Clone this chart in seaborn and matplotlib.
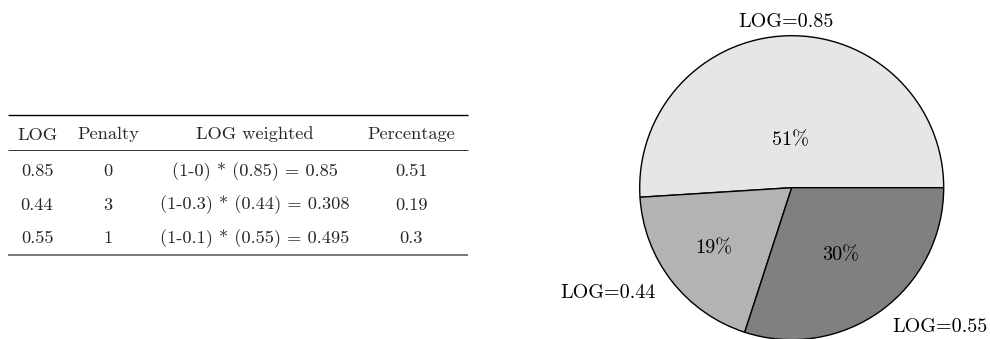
import matplotlib
matplotlib.use("Agg")
import matplotlib.pyplot as plt
import seaborn as sns
import numpy as np

# data
headers = ["LOG", "Penalty", "LOG weighted", "Percentage"]
log_values = ["0.85", "0.44", "0.55"]
penalties = ["0", "3", "1"]
penalty_factors = ["0", "0.3", "0.1"]
weighted = ["0.85", "0.308", "0.495"]
percentages = [0.51, 0.19, 0.3]
pie_labels = ["LOG=" + v for v in log_values]

# style
grays = ["#e6e6e6", "#b3b3b3", "#808080"]
pct_dist = [0.31, 0.65, 0.55]
lab_dist = [1.09, 1.13, 1.13]

sns.set_theme(style="white")
plt.rcParams["font.family"] = ["cmr10", "DejaVu Serif"]
plt.rcParams["mathtext.fontset"] = "cm"
plt.rcParams["axes.unicode_minus"] = False

fig = plt.figure(figsize=(9.9, 3.39), dpi=100)

# table, drawn on a pixel grid over the whole figure
tab = fig.add_axes([0, 0, 1, 1])
tab.set_xlim(0, 990)
tab.set_ylim(339, 0)
tab.axis("off")

col_x = [37, 108, 255, 411]
head_y = 139.5
row_y = [176, 209.5, 243]
fs_table = 13.2

for x, h in zip(col_x, headers):
    tab.text(x, head_y, h, ha="center", va="baseline", fontsize=fs_table)

for i in range(len(log_values)):
    formula = f"(1-{penalty_factors[i]}) * ({log_values[i]}) = {weighted[i]}"
    cells = [log_values[i], penalties[i], formula, f"{percentages[i]:g}"]
    for x, c in zip(col_x, cells):
        tab.text(x, row_y[i], c, ha="center", va="baseline", fontsize=fs_table)

# booktabs-like rules
tab.hlines(115, 8, 468, color="black", lw=1.0)
tab.hlines(149.5, 8, 468, color="#333333", lw=0.7)
tab.hlines(254.5, 8, 468, color="#555555", lw=1.1)

# pie chart
cx, cy, r = 791.7, 339 - 187.7, 152
ax = fig.add_axes([(cx - r) / 990, (cy - r) / 339, 2 * r / 990, 2 * r / 339])
wedges, texts, autotexts = ax.pie(
    percentages, labels=pie_labels, colors=grays, startangle=0,
    counterclock=True, autopct="%1.0f%%", labeldistance=1.1,
    wedgeprops=dict(edgecolor="black", linewidth=1.0),
    textprops=dict(fontsize=14.5, color="black"))

for w, t, d in zip(wedges, autotexts, pct_dist):
    ang = np.deg2rad((w.theta1 + w.theta2) / 2)
    t.set_position((d * np.cos(ang), d * np.sin(ang)))

for w, t, d in zip(wedges, texts, lab_dist):
    ang = np.deg2rad((w.theta1 + w.theta2) / 2)
    t.set_position((d * np.cos(ang), d * np.sin(ang)))
    if abs(np.cos(ang)) < 0.1:
        t.set_ha("center")

ax.set_xlim(-1, 1)
ax.set_ylim(-1, 1)
ax.set_aspect("equal")

fig.savefig("out.png", dpi=100)
